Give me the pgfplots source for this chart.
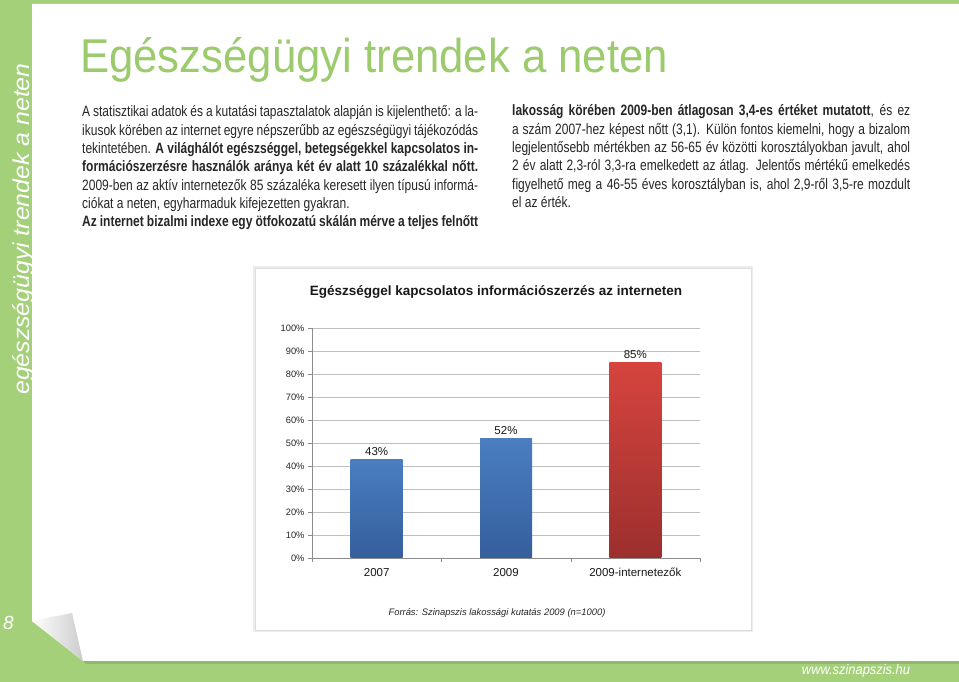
\documentclass[border=0pt]{standalone}
\usepackage{pgfplots}
\pgfplotsset{compat=1.18}
\usepackage{fontspec}
\setmainfont{Liberation Sans}
\newfontfamily\bodyfont[FakeStretch=0.80]{Liberation Sans}
\newfontfamily\titlefont[FakeStretch=0.92]{Liberation Sans}
\newfontfamily\sidefont[FakeStretch=1.08]{Liberation Sans}
\newfontfamily\urlfont[FakeStretch=0.92]{Liberation Sans}

\definecolor{pagegreen}{HTML}{A4D07A}
\definecolor{titlegreen}{HTML}{9CCB6E}
\definecolor{bodytext}{HTML}{262626}
\definecolor{bluetop}{HTML}{4A7EC1}
\definecolor{bluebot}{HTML}{355E9C}
\definecolor{redtop}{HTML}{D6443E}
\definecolor{redbot}{HTML}{9C2F2D}
\definecolor{gridgray}{HTML}{BFBFBF}
\definecolor{axisgray}{HTML}{8C8C8C}

\newcommand{\jl}[1]{\makebox[\linewidth][s]{#1}\\}

\begin{document}
\begin{tikzpicture}[x=1pt,y=1pt]
\useasboundingbox (0,0) rectangle (959,682);
% page background and paper
\fill[pagegreen] (0,0) rectangle (959,682);
\fill[pagegreen!75!black,opacity=0.45] (83,21) -- (959,21) -- (959,18) -- (86,18) -- cycle;
\fill[white] (32,678) -- (959,678) -- (959,21) -- (83,21) -- (32,61) -- cycle;
\shade[left color=white,right color=black!20] (32,61) -- (72,69) -- (83,21) -- cycle;

% side strip texts
\node[rotate=90,anchor=base west,inner sep=0,text=white,
  font=\sidefont\itshape\fontsize{23}{23}\selectfont] at (29,287) {egészségügyi trendek a neten};
\node[inner sep=0,text=white,font=\itshape\fontsize{19}{19}\selectfont] at (8.5,59) {8};
\node[inner sep=0,text=white,font=\urlfont\itshape\fontsize{14}{14}\selectfont] at (856,11) {www.szinapszis.hu};

% heading
\node[anchor=base west,inner sep=0,text=titlegreen,
  font=\titlefont\fontsize{47.5}{47.5}\selectfont] at (80,609) {Egészségügyi trendek a neten};

% left column
\node[anchor=base west,inner sep=0,text=bodytext] at (82,565) {\parbox[t]{396pt}{%
\bodyfont\fontsize{15}{18.3}\selectfont
\jl{A statisztikai adatok és a kutatási tapasztalatok alapján is kijelenthető: a la-}
\jl{ikusok körében az internet egyre népszerűbb az egészségügyi tájékozódás}
\jl{tekintetében. \textbf{A világhálót egészséggel, betegségekkel kapcsolatos in-}}
\jl{\textbf{formációszerzésre használók aránya két év alatt 10 százalékkal nőtt.}}
\jl{2009-ben az aktív internetezők 85 százaléka keresett ilyen típusú informá-}
ciókat a neten, egyharmaduk kifejezetten gyakran.\\
\makebox[\linewidth][s]{\textbf{Az internet bizalmi indexe egy ötfokozatú skálán mérve a teljes felnőtt}}}};

% right column
\node[anchor=base west,inner sep=0,text=bodytext] at (512,566) {\parbox[t]{398pt}{%
\bodyfont\fontsize{15}{18.3}\selectfont
\jl{\textbf{lakosság körében 2009-ben átlagosan 3,4-es értéket mutatott}, és ez}
\jl{a szám 2007-hez képest nőtt (3,1). Külön fontos kiemelni, hogy a bizalom}
\jl{legjelentősebb mértékben az 56-65 év közötti korosztályokban javult, ahol}
\jl{2 év alatt 2,3-ról 3,3-ra emelkedett az átlag. Jelentős mértékű emelkedés}
\jl{figyelhető meg a 46-55 éves korosztályban is, ahol 2,9-ről 3,5-re mozdult}
el az érték.}};

% chart panel
\fill[black!7] (253,50) rectangle (753,416);
\fill[white,draw=black!13] (255,52) rectangle (751,414);
\node[inner sep=0,text=black!90,font=\bfseries\fontsize{13.5}{15}\selectfont] at (496,390)
  {Egészséggel kapcsolatos információszerzés az interneten};
\node[inner sep=0,text=black!85,font=\itshape\fontsize{9.4}{10}\selectfont] at (497,69)
  {Forrás: Szinapszis lakossági kutatás 2009 (n=1000)};

\begin{axis}[
  at={(312pt,124pt)}, anchor=south west,
  scale only axis, width=388pt, height=230pt,
  xmin=-0.5, xmax=2.5, ymin=0, ymax=100,
  axis x line=bottom, axis y line=left,
  axis line style={draw=axisgray,-},
  ybar, bar width=52pt,
  xtick={0,1,2},
  xticklabels={2007,2009,2009-internetezők},
  major x tick style={draw=none},
  minor xtick={-0.5,0.5,1.5,2.5},
  minor x tick style={draw=axisgray},
  minor tick length=4pt,
  ytick={0,10,...,100},
  yticklabels={0\%,10\%,20\%,30\%,40\%,50\%,60\%,70\%,80\%,90\%,100\%},
  y tick style={draw=axisgray},
  major tick length=4pt,
  tick align=outside,
  ymajorgrids, grid style={draw=gridgray,line width=0.6pt},
  yticklabel style={font=\fontsize{9.3}{10}\selectfont,text=black!85},
  xticklabel style={font=\fontsize{11.5}{12}\selectfont,text=black!90,yshift=-3pt},
  /pgf/number format/assume math mode=true,
  nodes near coords={\pgfmathprintnumber{\pgfplotspointmeta}\%},
  every node near coord/.append style={font=\fontsize{11.5}{12}\selectfont,text=black!90},
  clip=false,
]
\addplot[bar shift=0pt,draw=none,top color=bluetop,bottom color=bluebot] coordinates {(0,43)};
\addplot[bar shift=0pt,draw=none,top color=bluetop,bottom color=bluebot] coordinates {(1,52)};
\addplot[bar shift=0pt,draw=none,top color=redtop,bottom color=redbot] coordinates {(2,85)};
\end{axis}
\end{tikzpicture}
\end{document}
